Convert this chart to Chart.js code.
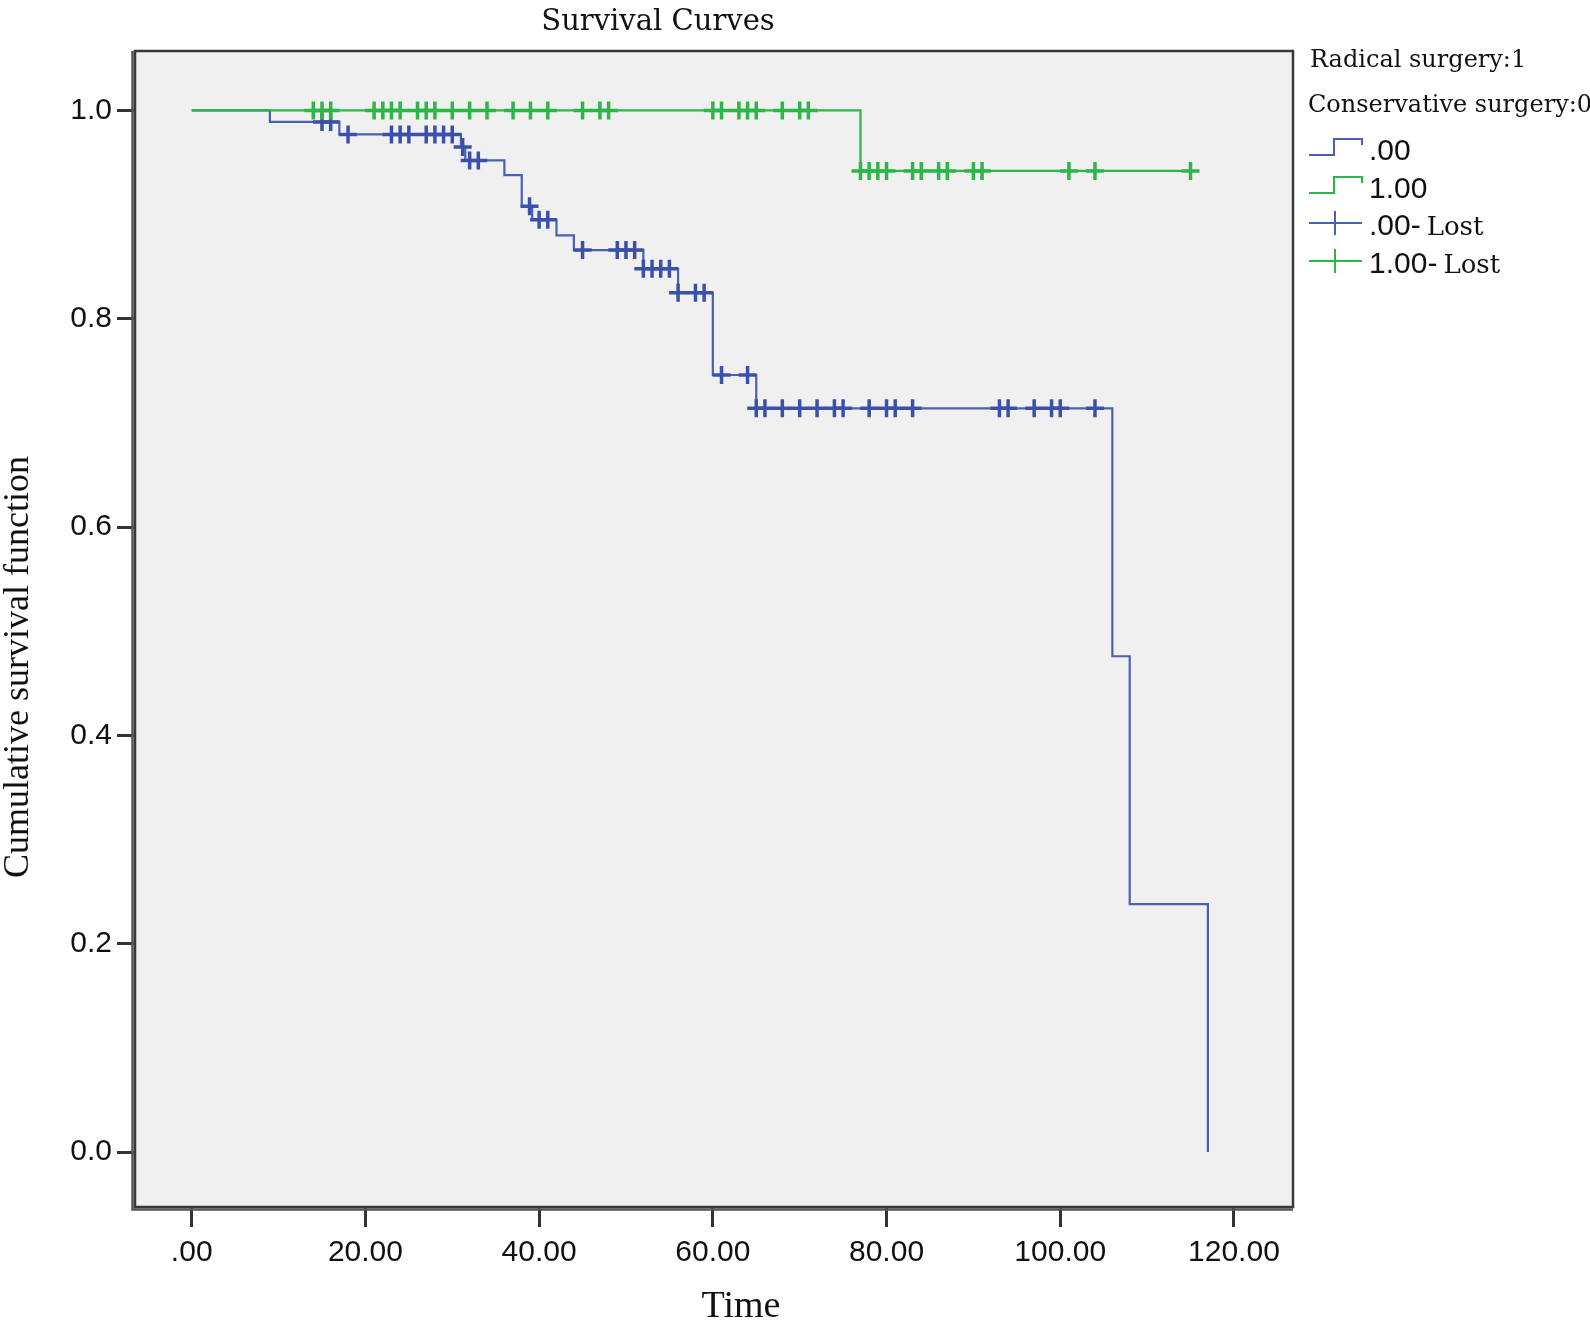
<!DOCTYPE html>
<html>
<head>
<meta charset="utf-8">
<script src="https://cdn.jsdelivr.net/npm/chart.js@4.4.1/dist/chart.umd.min.js"></script>
<style>
  html, body { margin: 0; padding: 0; background: #fff; }
  #wrap { width: 1590px; height: 1325px; position: relative; }
</style>
</head>
<body>
<div id="wrap"><canvas id="survival-chart"></canvas></div>
<script>
// step times and survival for each group
const blueTimes = [0, 9, 17, 31, 31.5, 36, 38, 39.2, 42, 44, 52, 56, 60, 65, 106, 108, 117];
const blueSurv  = [1, 0.989, 0.977, 0.965, 0.952, 0.938, 0.908, 0.895, 0.880, 0.866, 0.848, 0.825, 0.746, 0.714, 0.476, 0.238, 0];
const blueLost  = [15, 16, 18, 23, 24, 25, 27, 28, 29, 30, 31.2, 32, 33, 38.9, 40, 41, 45, 49, 50, 51,
                   52, 53, 54, 55, 56, 58, 59, 61, 64, 65, 66, 68, 70, 72, 74, 75, 78, 80, 81, 83,
                   93, 94, 97, 99, 100, 104];

const greenTimes = [0, 77];
const greenSurv  = [1, 0.942];
const greenLost  = [14, 15, 16, 21, 22, 23, 24, 26, 27, 28, 30, 32, 34, 37, 39, 41, 45, 47, 48,
                    60, 61, 63, 64, 65, 68, 70, 71, 77, 78, 79, 80, 83, 84, 86, 87, 90, 91, 101, 104, 115];

const xTicks = [0, 20, 40, 60, 80, 100, 120];
const yTicks = [0, 0.2, 0.4, 0.6, 0.8, 1.0];

const BLUE = '#3b51a9';
const BLUE_LINE = '#4a60b5';
const GREEN = '#2db548';

function survAt(times, surv, t) {
  let s = surv[0];
  for (let i = 0; i < times.length; i++) if (times[i] <= t) s = surv[i];
  return s;
}

function curve(times, surv, lost) {
  const pts = times.map((t, i) => ({ x: t, y: surv[i] }));
  const last = Math.max(...lost);
  if (last > times[times.length - 1]) pts.push({ x: last, y: surv[surv.length - 1] });
  return pts;
}

function marks(times, surv, lost) {
  return lost.map(t => ({ x: t, y: survAt(times, surv, t) }));
}

const frame = {
  id: 'frame',
  beforeDatasetsDraw(chart) {
    const a = chart.chartArea, ctx = chart.ctx;
    ctx.save();
    ctx.fillStyle = '#f0f0f0';
    ctx.fillRect(a.left, a.top, a.right - a.left, a.bottom - a.top);
    ctx.restore();
  },
  afterDraw(chart) {
    const a = chart.chartArea, ctx = chart.ctx;
    ctx.save();
    ctx.strokeStyle = '#3a3a3a';
    ctx.lineWidth = 2.5;
    ctx.strokeRect(a.left, a.top, a.right - a.left, a.bottom - a.top);
    ctx.strokeStyle = '#555';
    ctx.lineWidth = 2.5;
    ctx.beginPath();
    ctx.moveTo(a.left - 2.5, a.top);
    ctx.lineTo(a.left - 2.5, a.bottom + 2.5);
    ctx.lineTo(a.right, a.bottom + 2.5);
    ctx.stroke();

    // titles
    ctx.fillStyle = '#111';
    ctx.textAlign = 'center';
    ctx.textBaseline = 'alphabetic';
    ctx.font = '29px "DejaVu Serif"';
    ctx.fillText('Survival Curves', 658, 30);
    ctx.font = '38px "Liberation Serif"';
    ctx.fillText('Time', 741, 1317);
    ctx.save();
    ctx.translate(28, 667);
    ctx.rotate(-Math.PI / 2);
    ctx.font = '36px "Liberation Serif"';
    ctx.fillText('Cumulative survival function', 0, 0);
    ctx.restore();

    // legend
    ctx.textAlign = 'left';
    ctx.font = '24px "DejaVu Serif"';
    ctx.fillText('Radical surgery:1', 1310, 67);
    ctx.fillText('Conservative surgery:0', 1308, 112);

    const step = (y, color) => {
      ctx.strokeStyle = color;
      ctx.lineWidth = 2;
      ctx.beginPath();
      ctx.moveTo(1309, y);
      ctx.lineTo(1334, y);
      ctx.lineTo(1334, y - 16);
      ctx.lineTo(1362, y - 16);
      ctx.lineTo(1362, y - 10);
      ctx.stroke();
    };
    const cross = (y, color) => {
      ctx.strokeStyle = color;
      ctx.lineWidth = 2;
      ctx.beginPath();
      ctx.moveTo(1309, y);
      ctx.lineTo(1362, y);
      ctx.moveTo(1335, y - 12);
      ctx.lineTo(1335, y + 12);
      ctx.stroke();
    };
    step(155, BLUE_LINE);
    step(193, GREEN);
    cross(223, BLUE_LINE);
    cross(261, GREEN);

    const label = (num, y, lost) => {
      ctx.font = '30px "Liberation Sans"';
      ctx.fillText(num, 1369, y);
      if (lost) {
        const w = ctx.measureText(num).width;
        ctx.font = '26px "DejaVu Serif"';
        ctx.fillText('Lost', 1369 + w + 6, y);
      }
    };
    label('.00', 160, false);
    label('1.00', 198, false);
    label('.00-', 235, true);
    label('1.00-', 273, true);
    ctx.restore();
  }
};

new Chart(document.getElementById('survival-chart'), {
  type: 'line',
  data: {
    datasets: [
      {
        type: 'scatter',
        data: marks(greenTimes, greenSurv, greenLost),
        pointStyle: 'cross',
        pointRadius: 9,
        pointBorderWidth: 3.5,
        borderColor: GREEN,
        backgroundColor: GREEN,
        order: 0
      },
      {
        data: curve(greenTimes, greenSurv, greenLost),
        stepped: 'before',
        borderColor: GREEN,
        borderWidth: 2.2,
        pointRadius: 0,
        fill: false,
        order: 1
      },
      {
        type: 'scatter',
        data: marks(blueTimes, blueSurv, blueLost),
        pointStyle: 'cross',
        pointRadius: 9,
        pointBorderWidth: 3.5,
        borderColor: BLUE,
        backgroundColor: BLUE,
        order: 2
      },
      {
        data: curve(blueTimes, blueSurv, blueLost),
        stepped: 'before',
        borderColor: BLUE_LINE,
        borderWidth: 2.2,
        pointRadius: 0,
        fill: false,
        order: 3
      }
    ]
  },
  options: {
    responsive: true,
    maintainAspectRatio: false,
    animation: false,
    layout: { padding: { left: 0, top: 51, right: 297, bottom: 0 } },
    plugins: {
      legend: { display: false },
      tooltip: { enabled: false }
    },
    scales: {
      x: {
        type: 'linear',
        min: -6.53,
        max: 126.8,
        afterBuildTicks: s => { s.ticks = xTicks.map(v => ({ value: v })); },
        afterFit: s => { s.height = 118; },
        border: { display: false },
        grid: { drawOnChartArea: false, drawTicks: true, tickLength: 20, tickColor: '#333', tickWidth: 3 },
        ticks: {
          autoSkip: false,
          maxRotation: 0,
          padding: 8,
          color: '#111',
          font: { family: 'Liberation Sans', size: 30 },
          callback: v => v === 0 ? '.00' : v.toFixed(2)
        }
      },
      y: {
        min: -0.0528,
        max: 1.0571,
        afterBuildTicks: s => { s.ticks = yTicks.map(v => ({ value: v })); },
        afterFit: s => { s.width = 135; },
        border: { display: false },
        grid: { drawOnChartArea: false, drawTicks: true, tickLength: 18, tickColor: '#333', tickWidth: 3 },
        ticks: {
          padding: 5,
          color: '#111',
          font: { family: 'Liberation Sans', size: 30 },
          callback: v => v.toFixed(1)
        }
      }
    }
  },
  plugins: [frame]
});
</script>
</body>
</html>
